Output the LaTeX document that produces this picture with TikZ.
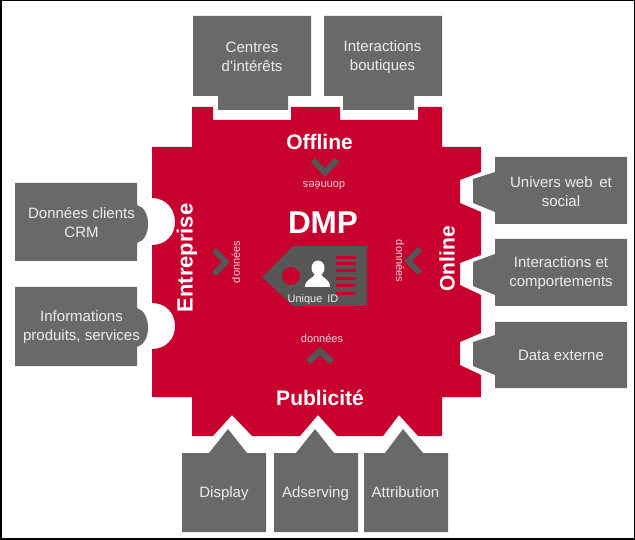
\documentclass[tikz,border=0pt]{standalone}
\usepackage{fontspec}
\setmainfont{Liberation Sans}
\definecolor{dmpred}{HTML}{C8002E}
\definecolor{boxgray}{HTML}{696969}
\definecolor{darkgray}{HTML}{565656}
\definecolor{pale}{HTML}{F8D5DC}
\definecolor{boxtext}{HTML}{EDEDED}
\tikzset{
  x=1pt,y=-1pt,
  box/.style={fill=boxgray,draw=none},
  boxlabel/.style={text=boxtext,align=center,font=\fontsize{15}{19}\selectfont,inner sep=0pt},
  side/.style={text=white,font=\fontsize{21}{24}\selectfont\bfseries,inner sep=0pt},
  datalabel/.style={text=pale,font=\fontsize{11}{13}\selectfont,inner sep=0pt},
  chev/.style={draw=darkgray,line width=6pt,miter limit=10}
}
\begin{document}
\begin{tikzpicture}
\useasboundingbox (0,0) rectangle (635,540);
\fill[white] (0,0) rectangle (635,540);
\draw[black,line width=1.5pt] (0.75,0.75) -- (634.25,0.75) -- (634.25,538.75) -- (0.75,538.75) -- cycle;
% central red shape
\fill[dmpred] (192,107) -- (213,107) -- (213,120) -- (291,120) -- (291,107) -- (340,107) -- (340,120)
 -- (418,120) -- (418,107) -- (442,107) -- (442,147) -- (481,147) -- (481,172) -- (460,180) -- (460,203) -- (481,212)
 -- (481,255) -- (460,263) -- (460,285) -- (481,295) -- (481,333) -- (460,342) -- (460,365) -- (481,375)
 -- (481,397) -- (442,397) -- (442,436) -- (418,436) -- (399,415) -- (383,436) -- (337,436) -- (318,415) -- (300,436)
 -- (252,436) -- (232,415) -- (213,436) -- (192,436) -- (192,397) -- (152,397) -- (152,349)
 .. controls (166,349) and (175,339) .. (175,326) .. controls (175,313) and (166,303) .. (152,303)
 -- (152,245) .. controls (166,245) and (175,235) .. (175,222) .. controls (175,209) and (166,198) .. (152,198)
 -- (152,147) -- (192,147) -- cycle;
% top boxes
\fill[box] (193,16) -- (311,16) -- (311,96) -- (288,96) -- (288,110) -- (218,110) -- (218,96) -- (193,96) -- cycle;
\fill[box] (324,16) -- (442,16) -- (442,96) -- (414,96) -- (414,110) -- (343,110) -- (343,96) -- (324,96) -- cycle;
\node[boxlabel] (centres) at (252,57) {Centres\\d'intérêts};
\node[boxlabel] (boutiques) at (382.5,57.5) {Interactions\\boutiques};
% left boxes
\fill[box] (15,183) -- (137,183) -- (137,205) .. controls (144,207) and (148,214) .. (148,224) .. controls (148,234) and (144,241) .. (137,243) -- (137,261) -- (15,261) -- cycle;
\fill[box] (15,287) -- (137,287) -- (137,308) .. controls (144,310) and (148,318) .. (148,328) .. controls (148,337) and (144,345) .. (137,347) -- (137,366) -- (15,366) -- cycle;
\node[boxlabel] (crm) at (81.5,223) {Données clients\\CRM};
\node[boxlabel] (infos) at (81.5,327) {Informations\\produits, services};
% right boxes
\fill[box] (495,157) -- (627,157) -- (627,224) -- (495,224) -- (495,212) -- (473,203) -- (473,179) -- (495,172) -- cycle;
\fill[box] (495,239) -- (627,239) -- (627,306) -- (495,306) -- (495,295) -- (473,286) -- (473,262) -- (495,254) -- cycle;
\fill[box] (495,322) -- (627,322) -- (627,388) -- (495,388) -- (495,375) -- (473,366) -- (473,342) -- (495,335) -- cycle;
\node[boxlabel] (univers) at (561,191.5) {Univers web\, et\\social};
\node[boxlabel] (comport) at (561,273.5) {Interactions et\\comportements};
\node[boxlabel] (data) at (561,355) {Data externe};
% bottom boxes
\fill[box] (182,453) -- (209,453) -- (228,429) -- (247,453) -- (266,453) -- (266,532) -- (182,532) -- cycle;
\fill[box] (274,453) -- (296,453) -- (315,429) -- (334,453) -- (358,453) -- (358,532) -- (274,532) -- cycle;
\fill[box] (364,453) -- (385,453) -- (403,429) -- (423,453) -- (448,453) -- (448,532) -- (364,532) -- cycle;
\node[boxlabel] (display) at (224,494) {Display};
\node[boxlabel] (adserving) at (315.5,494) {Adserving};
\node[boxlabel] (attribution) at (405.5,492) {Attribution};
% side titles
\node[side] (offline) at (319.5,142) {Offline};
\node[side] (publicite) at (320,398) {Publicité};
\node[side,font=\fontsize{22}{24}\selectfont\bfseries,rotate=90] (entreprise) at (187,258) {Entreprise};
\node[side,rotate=90] (online) at (447,259) {Online};
\node[text=white,font=\fontsize{31.5}{34}\selectfont\bfseries,inner sep=0pt] (dmp) at (323,223) {DMP};
% chevrons
\draw[chev] (313,160) -- (325,172.5) -- (337,160);
\draw[chev] (308,362) -- (320,351) -- (332,362);
\draw[chev] (214,250) -- (226,262) -- (214,274);
\draw[chev] (420,249) -- (408,261) -- (420,273);
\node[datalabel,rotate=180] (d1) at (324,185) {données};
\node[datalabel] (d2) at (322,339) {données};
\node[datalabel,rotate=90] (d3) at (236,262) {données};
\node[datalabel,rotate=-90] (d4) at (400,261) {données};
% tag
\fill[darkgray] (262,277) -- (293,246) -- (367,246) -- (367,306) -- (293,306) -- cycle;
\fill[dmpred] (291,276) circle (9);
\fill[white] (318,268) ellipse (6.5 and 7.5);
\fill[white] (305,287) .. controls (305,279) and (313,279) .. (315,274) -- (321,274) .. controls (323,279) and (330,279) .. (330,287) -- cycle;
\foreach \y in {257.5,264,271,278.5,286,294} \fill[dmpred] (336,\y-1.5) rectangle (356,\y+1.5);
\node[text=boxtext,font=\fontsize{11}{13}\selectfont,inner sep=0pt] (uid) at (313,300) {Unique\, ID};
\end{tikzpicture}
\end{document}
